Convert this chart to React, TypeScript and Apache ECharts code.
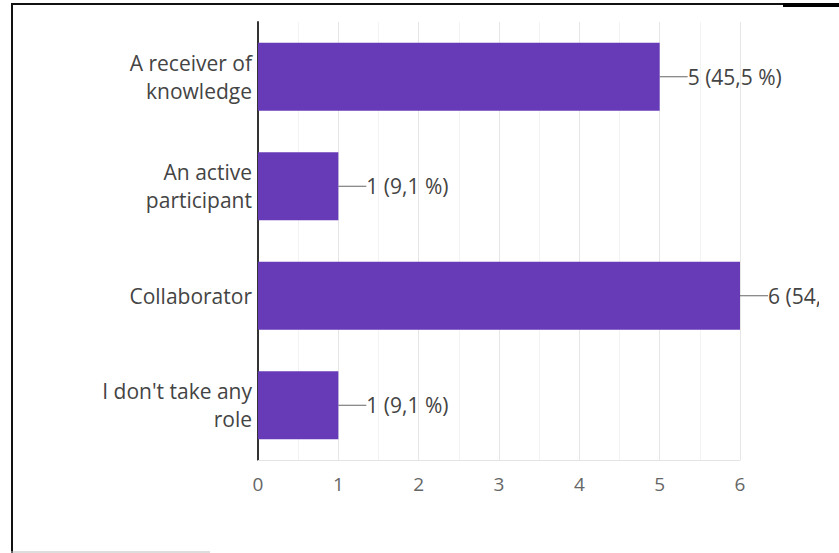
import React, { useEffect, useRef } from "react";
import * as echarts from "echarts";

const categories = [
  "A receiver of\nknowledge",
  "An active\nparticipant",
  "Collaborator",
  "I don't take any\nrole",
];
const counts = [5, 1, 6, 1];
const percents = ["45,5", "9,1", "54,5", "9,1"];
const xTicks = [0, 1, 2, 3, 4, 5, 6];

const FONT = "'Open Sans'";

export default function App() {
  const ref = useRef<HTMLDivElement>(null);
  useEffect(() => {
    if (!ref.current) return;
    const chart = echarts.init(ref.current, null, { renderer: "svg" });
    chart.setOption({
      animation: false,
      backgroundColor: "#ffffff",
      textStyle: { fontFamily: FONT },
      grid: { left: 258, right: 99, top: 22, bottom: 93, containLabel: false },
      xAxis: {
        type: "value",
        min: xTicks[0],
        max: xTicks[xTicks.length - 1],
        interval: 1,
        axisLine: { show: true, lineStyle: { color: "#e4e4e4", width: 1 } },
        axisTick: { show: false },
        axisLabel: { fontSize: 19, color: "#666", margin: 14, fontFamily: FONT },
        splitLine: { show: true, lineStyle: { color: "#e6e6e6", width: 1 } },
        minorTick: { show: false, splitNumber: 2 },
        minorSplitLine: { show: true, lineStyle: { color: "#f3f3f3", width: 1 } },
      },
      yAxis: {
        type: "category",
        data: categories,
        inverse: true,
        axisLine: { show: true, lineStyle: { color: "#333", width: 2 } },
        axisTick: { show: false },
        axisLabel: {
          fontSize: 21,
          lineHeight: 28,
          color: "#444",
          margin: 6,
          align: "right",
          fontFamily: FONT,
        },
        splitLine: { show: false },
      },
      series: [
        {
          type: "bar",
          data: counts,
          barCategoryGap: "38%",
          itemStyle: { color: "#673AB7" },
          label: {
            show: true,
            position: "right",
            distance: 0,
            fontSize: 21,
            color: "#444",
            fontFamily: FONT,
            formatter: (p: any) => `${counts[p.dataIndex]} (${percents[p.dataIndex]} %)`,
          },
          labelLayout: { dx: 28 },
          labelLine: { show: true, lineStyle: { color: "#666", width: 1 } },
        },
      ],
      graphic: [
        { type: "rect", right: 0, top: 8, shape: { width: 20, height: 545 }, style: { fill: "#fff" }, z: 100 },
        { type: "line", shape: { x1: 11, y1: 4, x2: 783, y2: 4 }, style: { stroke: "#111", lineWidth: 2 }, z: 101 },
        { type: "line", shape: { x1: 783, y1: 5, x2: 839, y2: 5 }, style: { stroke: "#000", lineWidth: 4 }, z: 101 },
        { type: "line", shape: { x1: 12, y1: 3, x2: 12, y2: 553 }, style: { stroke: "#111", lineWidth: 2 }, z: 101 },
        { type: "line", shape: { x1: 11, y1: 552, x2: 210, y2: 552 }, style: { stroke: "#bbb", lineWidth: 1 }, z: 101 },
      ],
    });
    return () => chart.dispose();
  }, []);
  return (
    <div
      ref={ref}
      style={{ position: "absolute", left: 0, top: 0, width: 839, height: 553, background: "#fff" }}
    />
  );
}
